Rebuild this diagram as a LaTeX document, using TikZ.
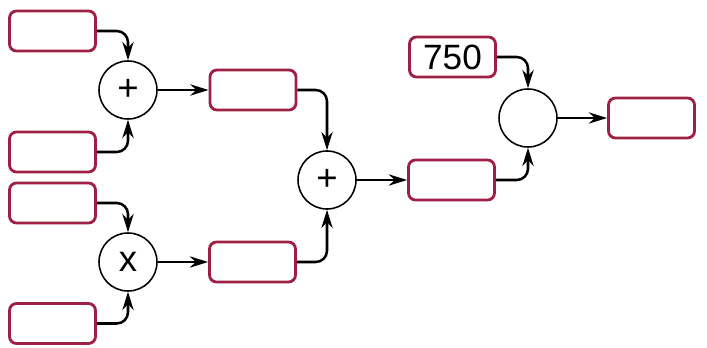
\documentclass[tikz,border=0pt]{standalone}
\usepackage{fontspec}
\setmainfont{Liberation Sans}
\usetikzlibrary{arrows.meta}
\definecolor{boxred}{RGB}{158,32,68}

\begin{document}
\begin{tikzpicture}[x=0.025cm,y=-0.025cm,
  box/.style={rectangle,draw=boxred,line width=2pt,rounded corners=5pt,minimum width=2.15cm,minimum height=1.0cm,inner sep=0pt,font=\fontsize{25}{25}\selectfont},
  op/.style={circle,draw,line width=1.1pt,minimum size=1.45cm,inner sep=0pt,font=\fontsize{26}{26}\selectfont},
  link/.style={-{Stealth[length=13pt,width=8pt]},line width=1.8pt,rounded corners=8pt}]
  \useasboundingbox (0,0) rectangle (707,347);

  % Define nodes
  \node (input1) [box] at (52.5,31) {};
  \node (input2) [box] at (52.5,152) {};
  \node (input3) [box] at (52.5,203) {};
  \node (input4) [box] at (52.5,323.5) {};
  \node (sum1) [op] at (128,90) {+};
  \node (product) [op] at (128,262) {x};
  \node (result1) [box] at (253,90) {};
  \node (result2) [box] at (252.5,262) {};
  \node (sum2) [op] at (327,180) {+};
  \node (result3) [box] at (451.5,180) {};
  \node (number) [box] at (452.5,57) {750};
  \node (sum3) [op] at (528,118) {};
  \node (output) [box] at (651.5,118) {};

  % Draw edges
  \draw [link] (input1.east) -| (sum1.north);
  \draw [link] (input2.east) -| (sum1.south);
  \draw [link] (input3.east) -| (product.north);
  \draw [link] (input4.east) -| (product.south);
  \draw [link] (sum1) -- (result1);
  \draw [link] (product) -- (result2);
  \draw [link] (result1.east) -| (sum2.north);
  \draw [link] (result2.east) -| (sum2.south);
  \draw [link] (sum2) -- (result3);
  \draw [link] (number.east) -| (sum3.north);
  \draw [link] (result3.east) -| (sum3.south);
  \draw [link] (sum3) -- (output);
\end{tikzpicture}
\end{document}
